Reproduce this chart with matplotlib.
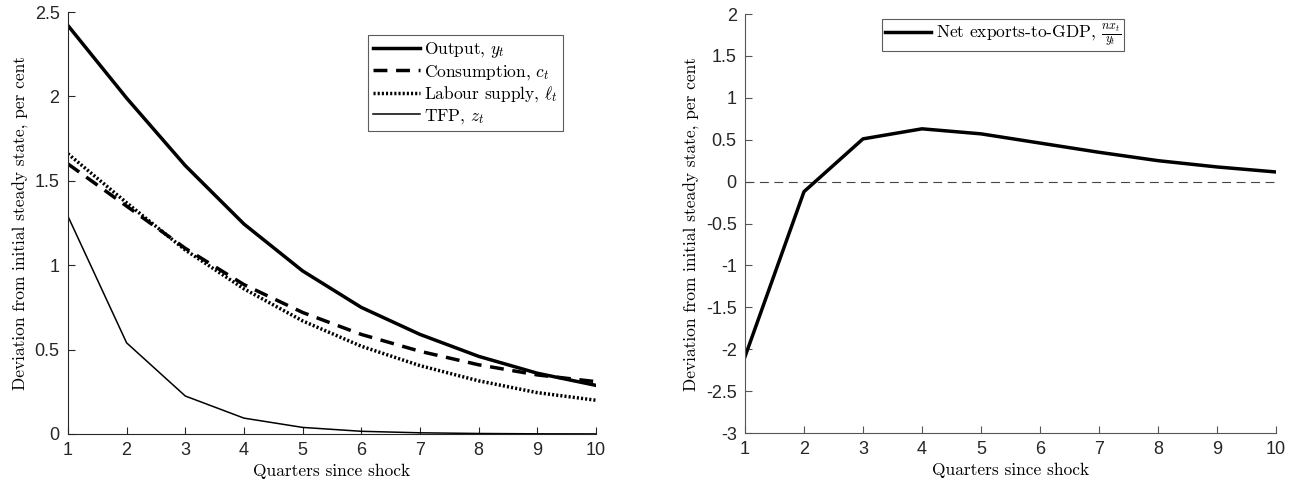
import matplotlib
matplotlib.use("Agg")
import matplotlib.pyplot as plt
import numpy as np

quarters = [1, 2, 3, 4, 5, 6, 7, 8, 9, 10]
output = [2.42, 1.99, 1.59, 1.244, 0.966, 0.75, 0.59, 0.46, 0.36, 0.288]
consumption = [1.60, 1.35, 1.10, 0.885, 0.72, 0.59, 0.49, 0.41, 0.35, 0.31]
labour = [1.66, 1.37, 1.09, 0.86, 0.67, 0.52, 0.405, 0.315, 0.245, 0.20]
tfp = [1.29, 0.54, 0.225, 0.094, 0.039, 0.016, 0.007, 0.003, 0.001, 0.0005]
net_exports = [-2.09, -0.12, 0.51, 0.63, 0.57, 0.46, 0.35, 0.25, 0.175, 0.115]

plt.rcParams['mathtext.fontset'] = 'cm'
serif = 'cmr10'
tickfont = 'Liberation Sans'

fig = plt.figure(figsize=(12.99, 4.90), dpi=100)
ax1 = fig.add_axes([0.0523, 0.1143, 0.4065, 0.8612])
ax2 = fig.add_axes([0.5735, 0.1163, 0.4088, 0.8551])

def style(ax, spine_color):
    for s in ['top', 'right']:
        ax.spines[s].set_visible(False)
    for s in ['left', 'bottom']:
        ax.spines[s].set_color(spine_color)
        ax.spines[s].set_linewidth(0.8)
    ax.tick_params(direction='in', length=5, width=0.8, labelsize=13, colors=spine_color,
                   labelcolor='#262626')
    ax.tick_params(axis='x', pad=6)
    ax.tick_params(axis='y', pad=6)
    for lab in ax.get_xticklabels() + ax.get_yticklabels():
        lab.set_fontfamily(tickfont)
    ax.set_xlabel('Quarters since shock', fontfamily=serif, fontsize=12.5, labelpad=3)
    ax.set_ylabel('Deviation from initial steady state, per cent', fontfamily=serif, fontsize=12.5)

ax1.plot(quarters, output, color='black', lw=2.5, label=r'Output, $y_t$')
ax1.plot(quarters, consumption, color='black', lw=2.5, ls=(0, (4, 2.5)), label=r'Consumption, $c_t$')
ax1.plot(quarters, labour, color='black', lw=2.5, ls=(0, (0.6, 0.6)), label=r'Labour supply, $\ell_t$')
ax1.plot(quarters, tfp, color='black', lw=1.1, label=r'TFP, $z_t$')
ax1.set_xlim(1, 10)
ax1.set_ylim(0, 2.5)
ax1.set_xticks(range(1, 11))
ax1.set_yticks([0, 0.5, 1, 1.5, 2, 2.5])
ax1.set_yticklabels(['0', '0.5', '1', '1.5', '2', '2.5'])
style(ax1, '#262626')
leg1 = ax1.legend(loc='upper right', bbox_to_anchor=(0.9375, 0.945), prop={'family': serif, 'size': 12.5},
                  frameon=True, fancybox=False, edgecolor='#333333', handlelength=2.7,
                  handletextpad=0.25, borderpad=0.3, labelspacing=0.15, borderaxespad=0)
leg1.get_frame().set_linewidth(0.8)

ax2.plot(quarters, net_exports, color='black', lw=2.5, label=r'Net exports-to-GDP, $\frac{nx_t}{y_t}$')
ax2.axhline(0, color='#444444', lw=0.8, ls=(0, (8, 5)))
ax2.set_xlim(1, 10)
ax2.set_ylim(-3, 2)
ax2.set_xticks(range(1, 11))
ax2.set_yticks(np.arange(-3, 2.01, 0.5))
ax2.set_yticklabels(['-3', '-2.5', '-2', '-1.5', '-1', '-0.5', '0', '0.5', '1', '1.5', '2'])
style(ax2, '#555555')
leg2 = ax2.legend(loc='upper left', bbox_to_anchor=(0.258, 0.988), prop={'family': serif, 'size': 12.5},
                  frameon=True, fancybox=False, edgecolor='#333333', handlelength=2.7,
                  handletextpad=0.25, borderpad=0.15, borderaxespad=0)
leg2.get_frame().set_linewidth(0.8)

fig.savefig('out.png', dpi=100)
